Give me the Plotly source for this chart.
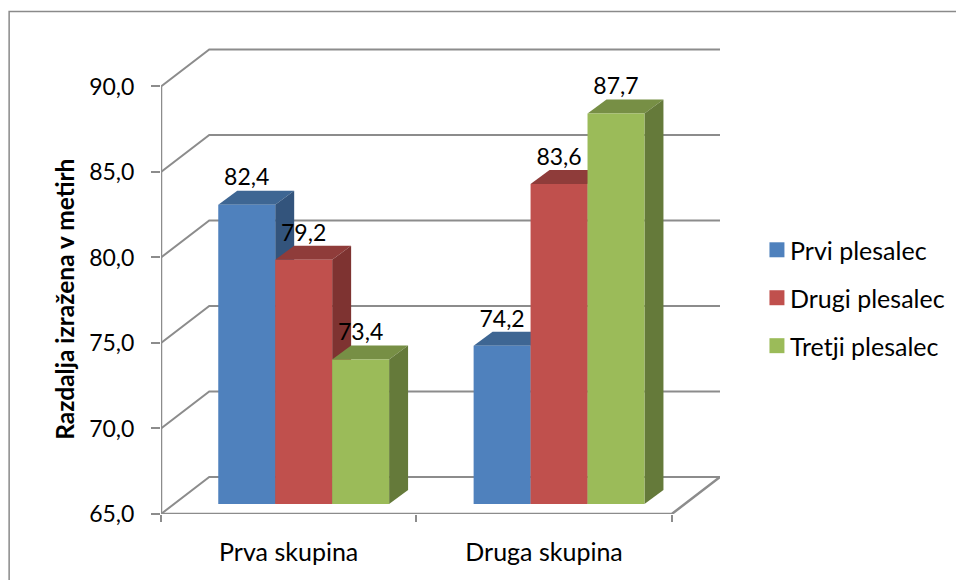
import plotly.graph_objects as go

# Chart data
categories = ["Prva skupina", "Druga skupina"]
series_names = ["Prvi plesalec", "Drugi plesalec", "Tretji plesalec"]
prvi = [82.4, 74.2]
drugi = [79.2, 83.6]
tretji = [73.4, 87.7]
y_ticks = [65, 70, 75, 80, 85, 90]
y_tick_labels = ["65,0", "70,0", "75,0", "80,0", "85,0", "90,0"]
axis_title = "Razdalja izražena v metirh"

series_values = [prvi, drugi, tretji]
front_colors = ["#4F81BD", "#C0504D", "#9BBB59"]
top_colors = ["#3E6693", "#8F3C3A", "#778F45"]
side_colors = ["#33547C", "#7E3331", "#657A3A"]

# Page geometry in pixels
W, H = 956, 580
FONT = "Lato"
GREY = "#8C8C8C"
PLOT_L, PLOT_R = 161.0, 720.5
PLOT_T, PLOT_B = 48.0, 514.5

# Scales: wall plane (y) and the plane the bars stand on (y2)
PX_PER_CAT = 255.6
PX_PER_UNIT = 17.12
BAR_PX_PER_UNIT = 17.22
BAR_BASE_PX = 504.5
FLOOR = 65

x_range = [0, (PLOT_R - PLOT_L) / PX_PER_CAT]
y_range = [FLOOR, FLOOR + (PLOT_B - PLOT_T) / PX_PER_UNIT]
y2_range = [
    FLOOR - (PLOT_B - BAR_BASE_PX) / BAR_PX_PER_UNIT,
    FLOOR + (BAR_BASE_PX - PLOT_T) / BAR_PX_PER_UNIT,
]

# Depth of the walls and of the bars
WALL_DX = (PLOT_R - PLOT_L) / PX_PER_CAT - 2
WALL_DY = 37 / PX_PER_UNIT
BAR_DX = 19 / PX_PER_CAT
BAR_DY = 14 / BAR_PX_PER_UNIT
BAR_W = 57 / PX_PER_CAT
BAR_SHIFT = 15 / PX_PER_CAT
LABEL_LIFT = 25 / BAR_PX_PER_UNIT
cat_x = [i + 0.5 for i in range(len(categories))]


def px_x(px):
    return (px - PLOT_L) / (PLOT_R - PLOT_L)


def px_y(py):
    return (PLOT_B - py) / (PLOT_B - PLOT_T)


fig = go.Figure()

# Left and back walls: one gridline per tick
grid_x, grid_y = [], []
for t in y_ticks:
    grid_x += [0, WALL_DX, x_range[1], None]
    grid_y += [t, t + WALL_DY, t + WALL_DY, None]
fig.add_trace(go.Scatter(x=grid_x, y=grid_y, mode="lines", cliponaxis=False,
                         line=dict(color=GREY, width=2), hoverinfo="skip", showlegend=False))

# Floor outline and the value axis line
outline_x = [0, 0, None, 0, 2, 2 + WALL_DX]
outline_y = [y_ticks[0], y_ticks[-1], None, FLOOR, FLOOR, FLOOR + WALL_DY]
fig.add_trace(go.Scatter(x=outline_x, y=outline_y, mode="lines", cliponaxis=False,
                         line=dict(color=GREY, width=2.5), hoverinfo="skip", showlegend=False))

# Bars, back to front: each series' top and side sit behind the next series' front
for s, (name, values) in enumerate(zip(series_names, series_values)):
    offset = BAR_SHIFT + (s - 1.5) * BAR_W
    layer = 2 * s + 1
    for cx, v in zip(cat_x, values):
        left = cx + offset
        right = left + BAR_W
        fig.add_trace(go.Scatter(
            x=[left, right, right + BAR_DX, left + BAR_DX, left],
            y=[v, v, v + BAR_DY, v + BAR_DY, v],
            mode="lines", fill="toself", fillcolor=top_colors[s], line=dict(width=0),
            yaxis="y2", zorder=layer, hoverinfo="skip", showlegend=False))
        fig.add_trace(go.Scatter(
            x=[right, right + BAR_DX, right + BAR_DX, right, right],
            y=[FLOOR, FLOOR + BAR_DY, v + BAR_DY, v, FLOOR],
            mode="lines", fill="toself", fillcolor=side_colors[s], line=dict(width=0),
            yaxis="y2", zorder=layer, hoverinfo="skip", showlegend=False))
    fig.add_trace(go.Bar(
        x=cat_x, y=[v - FLOOR for v in values], base=FLOOR, width=BAR_W, offset=offset,
        name=name, marker=dict(color=front_colors[s], line=dict(width=0)),
        yaxis="y2", zorder=layer + 1, showlegend=False))

# Value labels above each bar
for s, values in enumerate(series_values):
    offset = BAR_SHIFT + (s - 1.5) * BAR_W
    fig.add_trace(go.Scatter(
        x=[cx + offset + BAR_W / 2 for cx in cat_x],
        y=[v + LABEL_LIFT for v in values],
        text=[f"{v:.1f}".replace(".", ",") for v in values],
        mode="text", textposition="middle center", cliponaxis=False,
        textfont=dict(family=FONT, size=23, color="#000000"),
        yaxis="y2", zorder=20, hoverinfo="skip", showlegend=False))

# Outer frame, legend keys and legend texts
shapes = [dict(type="rect", xref="paper", yref="paper",
               x0=px_x(9), x1=px_x(W + 40), y0=px_y(H + 40), y1=px_y(11.5),
               line=dict(color="#8A8A8A", width=1.5), fillcolor="rgba(0,0,0,0)", layer="below")]
annotations = [dict(text=f"<b>{axis_title}</b>", textangle=-90, xref="paper", yref="paper",
                    x=px_x(65), y=px_y(300), showarrow=False, xanchor="center", yanchor="middle",
                    font=dict(family=FONT, size=24.5, color="#000000"))]
legend_rows = [250, 298, 346]
for name, color, row in zip(series_names, front_colors, legend_rows):
    shapes.append(dict(type="rect", xref="paper", yref="paper",
                       x0=px_x(770), x1=px_x(785), y0=px_y(row + 7.5), y1=px_y(row - 7.5),
                       line=dict(width=0), fillcolor=color))
    annotations.append(dict(text=name, xref="paper", yref="paper", x=px_x(789), y=px_y(row),
                            showarrow=False, xanchor="left", yanchor="middle",
                            font=dict(family=FONT, size=25, color="#000000")))

fig.update_layout(
    width=W, height=H, autosize=False,
    margin=dict(l=PLOT_L, r=W - PLOT_R, t=PLOT_T, b=H - PLOT_B, pad=0),
    paper_bgcolor="#FFFFFF", plot_bgcolor="rgba(0,0,0,0)",
    barmode="overlay", showlegend=False,
    shapes=shapes, annotations=annotations,
    font=dict(family=FONT, size=23, color="#000000"),
    xaxis=dict(range=x_range, tickmode="array", tickvals=cat_x, ticktext=categories,
               tickfont=dict(family=FONT, size=25),
               ticks="outside", ticklen=16, tickcolor="rgba(0,0,0,0)", showgrid=False,
               zeroline=False, showline=False,
               minor=dict(tickmode="array", tickvals=[0, 1, 2], ticks="outside", ticklen=7,
                          tickwidth=2, tickcolor=GREY, showgrid=False)),
    yaxis=dict(range=y_range, tickmode="array", tickvals=y_ticks, ticktext=y_tick_labels,
               ticks="outside", ticklen=9, tickwidth=2, tickcolor=GREY, ticklabelstandoff=12,
               showgrid=False, zeroline=False, showline=False),
    yaxis2=dict(range=y2_range, overlaying="y", visible=False, showgrid=False, zeroline=False),
)

fig.write_html("out.html", config={"displayModeBar": False})
